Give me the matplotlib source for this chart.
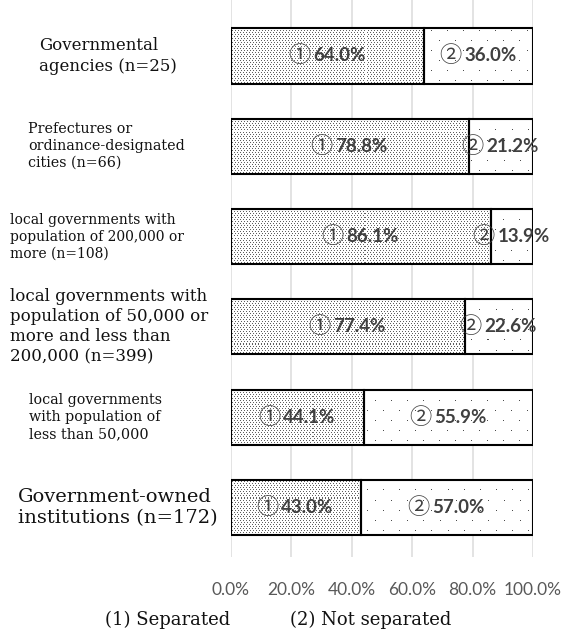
import numpy as np
import matplotlib
matplotlib.use("Agg")
import matplotlib.pyplot as plt
import matplotlib.transforms as mtransforms

# survey groups, top to bottom
groups = [
    "Governmental\nagencies (n=25)",
    "Prefectures or\nordinance-designated\ncities (n=66)",
    "local governments with\npopulation of 200,000 or\nmore (n=108)",
    "local governments with\npopulation of 50,000 or\nmore and less than\n200,000 (n=399)",
    "local governments\nwith population of\nless than 50,000",
    "Government-owned\ninstitutions (n=172)",
]
separated = [64.0, 78.8, 86.1, 77.4, 44.1, 43.0]
not_separated = [36.0, 21.2, 13.9, 22.6, 55.9, 57.0]
ticks = [0, 20, 40, 60, 80, 100]
legend_labels = ["(1) Separated", "(2) Not separated"]

# label styling per group (font size in pt, left edge in px)
label_sizes = [12, 10.3, 10, 12, 10.3, 14]
label_left = [39, 28, 10, 10, 29, 18]

W, H = 568, 635
AX_W, AX_H = 302, 557
fig = plt.figure(figsize=(W / 100, H / 100), dpi=100)
ax = fig.add_axes([231 / W, 1 - AX_H / H, AX_W / W, AX_H / H])

n = len(groups)
ypos = np.arange(n)[::-1]
bar_h = 0.61
ylim = (-0.55, n - 1 + 0.62)


def dot_texture(col_step, row_step, shift, rgb):
    # pixel stipple, rows staggered by `shift`
    img = np.zeros((AX_H, AX_W, 4))
    for r in range(0, AX_H, row_step):
        off = shift if (r // row_step) % 2 else 0
        img[r, off::col_step, :3] = rgb
        img[r, off::col_step, 3] = 1.0
    return img


dense = dot_texture(3, 2, 1, (0.38, 0.38, 0.38))
sparse = dot_texture(16, 10, 8, (0.30, 0.30, 0.30))

left_bars = ax.barh(ypos, separated, height=bar_h, color="white",
                    linewidth=0, zorder=2)
right_bars = ax.barh(ypos, not_separated, left=separated, height=bar_h,
                     color="white", linewidth=0, zorder=2)

for bars, tex in ((left_bars, dense), (right_bars, sparse)):
    for patch in bars.patches:
        im = ax.imshow(tex, extent=(0, 100, ylim[0], ylim[1]), aspect="auto",
                       interpolation="nearest", origin="upper", zorder=2.5)
        im.set_clip_path(patch)

# black outlines on top
ax.barh(ypos, separated, height=bar_h, fill=False, edgecolor="black",
        linewidth=1.5, zorder=3)
ax.barh(ypos, not_separated, left=separated, height=bar_h, fill=False,
        edgecolor="black", linewidth=1.5, zorder=3)

num_font = dict(family=["Lato", "DejaVu Sans"], fontweight="bold",
                fontsize=13.5, color="#404040", va="center", zorder=4)
circ_font = dict(family=["Noto Sans CJK JP", "DejaVu Sans"], fontsize=16,
                 color="#404040", va="center", ha="right", zorder=4)


def value_label(x, y, mark, val):
    ax.annotate(mark, (x, y), xytext=(-12.5, 0), textcoords="offset points",
                **circ_font)
    ax.annotate(f"{val:.1f}%", (x, y), xytext=(-10.5, 0),
                textcoords="offset points", ha="left", **num_font)


for y, a, b in zip(ypos, separated, not_separated):
    value_label(a / 2, y, "\u2460", a)
    value_label(a + b / 2, y, "\u2461", b)

ax.set_xlim(0, 100)
ax.set_ylim(*ylim)
ax.set_xticks(ticks)
ax.set_xticklabels([f"{t:.1f}%" for t in ticks], family="Lato",
                   fontsize=12.5, color="#595959")
ax.tick_params(axis="x", length=0, pad=18)
ax.set_yticks([])
ax.grid(axis="x", color="#e0e0e0", linewidth=1.3, zorder=0)
ax.set_axisbelow(True)
for s in ax.spines.values():
    s.set_visible(False)

# group labels, left aligned in the margin
trans = mtransforms.blended_transform_factory(fig.transFigure, ax.transData)
for y, txt, fs, lx in zip(ypos, groups, label_sizes, label_left):
    ax.text(lx / W, y, txt, transform=trans, family="DejaVu Serif",
            fontsize=fs, ha="left", va="center", linespacing=1.25,
            color="#111111")

fig.text(105 / W, 1 - 620 / H, legend_labels[0], family="DejaVu Serif",
         fontsize=13, ha="left", va="center", color="#111111")
fig.text(290 / W, 1 - 620 / H, legend_labels[1], family="DejaVu Serif",
         fontsize=13, ha="left", va="center", color="#111111")

fig.savefig("out.png", dpi=100)
